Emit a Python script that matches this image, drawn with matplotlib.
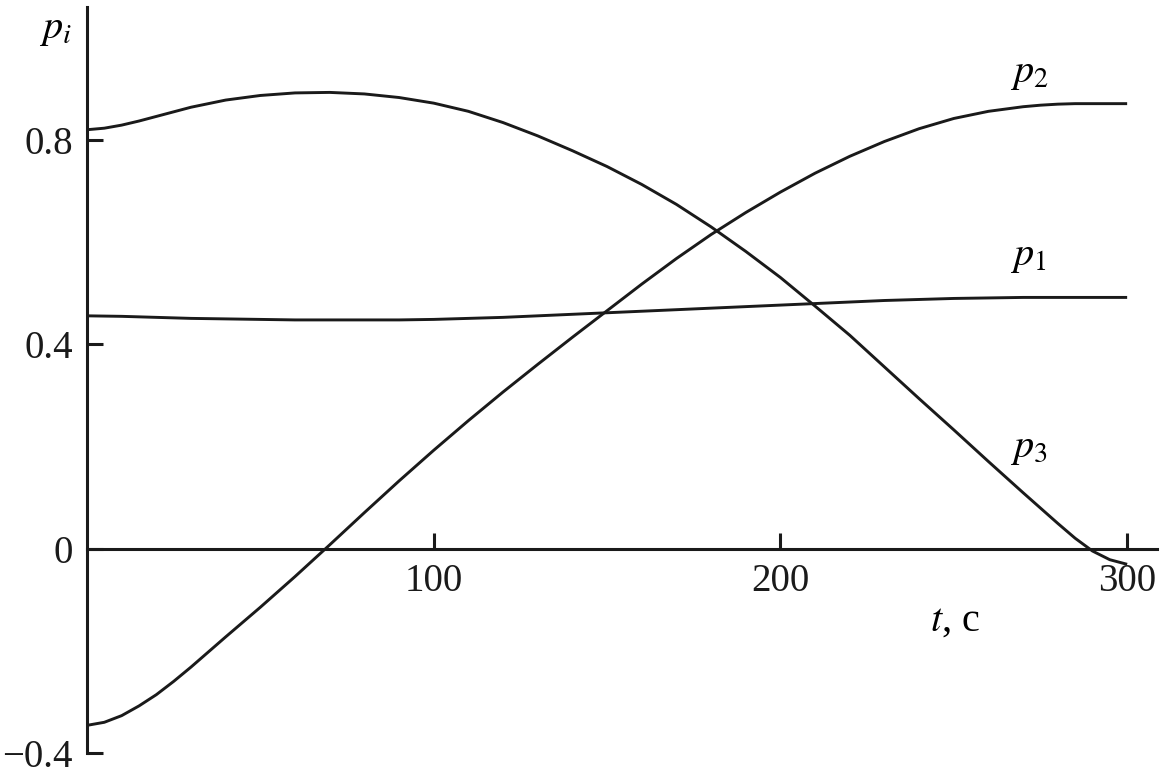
import numpy as np
import matplotlib.pyplot as plt

plt.rcParams['font.family'] = ['Liberation Serif', 'DejaVu Serif']
plt.rcParams['mathtext.fontset'] = 'stix'

# values (extra points where the curves bend most)
t = [0, 5, 10, 15, 20, 25, 30,
     40, 50, 60, 70, 80, 90, 100, 110, 120, 130, 140, 150, 160, 170, 180,
     190, 200, 210, 220, 230, 240, 250, 260, 270,
     275, 280, 285, 290, 295, 300]

p1 = [0.456, 0.4555, 0.455, 0.454, 0.453, 0.452, 0.451,
      0.450, 0.449, 0.448, 0.448, 0.448, 0.448, 0.449, 0.451, 0.453, 0.456,
      0.459, 0.462, 0.465, 0.468, 0.471, 0.474, 0.477, 0.480, 0.483, 0.486,
      0.488, 0.490, 0.491, 0.492,
      0.492, 0.492, 0.492, 0.492, 0.492, 0.492]

p2 = [-0.345, -0.339, -0.326, -0.307, -0.285, -0.259, -0.231,
      -0.172, -0.114, -0.054, 0.008, 0.071, 0.133, 0.193, 0.251, 0.307, 0.361,
      0.414, 0.466, 0.518, 0.568, 0.615, 0.658, 0.698, 0.735, 0.768, 0.797,
      0.822, 0.842, 0.856, 0.865,
      0.868, 0.870, 0.871, 0.871, 0.871, 0.871]

p3 = [0.820, 0.823, 0.829, 0.837, 0.846, 0.855, 0.864,
      0.878, 0.887, 0.892, 0.893, 0.890, 0.883, 0.872, 0.856, 0.834, 0.808,
      0.779, 0.748, 0.713, 0.674, 0.630, 0.582, 0.531, 0.475, 0.418, 0.356,
      0.294, 0.233, 0.171, 0.110,
      0.080, 0.050, 0.021, -0.004, -0.021, -0.030]

x_ticks = [100, 200, 300]
y_ticks = [-0.4, 0, 0.4, 0.8]
y_tick_labels = ['\u22120.4', '0', '0.4', '0.8']

fig = plt.figure(figsize=(11.69, 7.8), dpi=100)
ax = fig.add_axes([0.0744, 0.034, 0.9153, 0.957])

for series in (p1, p2, p3):
    ax.plot(t, series, color='#1a1a1a', lw=2.1, solid_capstyle='butt')

ax.set_xlim(0, 308.6)
ax.set_ylim(-0.4, 1.06)

ax.spines['top'].set_visible(False)
ax.spines['right'].set_visible(False)
ax.spines['bottom'].set_position(('data', 0))
for s in ('left', 'bottom'):
    ax.spines[s].set_linewidth(2.2)
    ax.spines[s].set_color('#1a1a1a')

ax.set_xticks(x_ticks)
ax.set_xticklabels([str(v) for v in x_ticks])
ax.set_yticks(y_ticks)
ax.set_yticklabels(y_tick_labels)
ax.tick_params(axis='both', direction='in', length=11.5, width=2.2,
               color='#1a1a1a', labelsize=28, labelcolor='#1a1a1a')
ax.tick_params(axis='x', pad=10)
ax.tick_params(axis='y', pad=10)

# curve and axis labels
ax.text(-13.8, 1.0, r'$p_i$', fontsize=29, ha='left', va='baseline', clip_on=False)
ax.text(266.2, 0.914, r'$p_2$', fontsize=29, ha='left', va='baseline')
ax.text(266.2, 0.556, r'$p_1$', fontsize=29, ha='left', va='baseline')
ax.text(266.2, 0.180, r'$p_3$', fontsize=29, ha='left', va='baseline')
ax.text(243.2, -0.159, r'$t$, с', fontsize=29, ha='left', va='baseline')

fig.savefig('out.png', dpi=100)
